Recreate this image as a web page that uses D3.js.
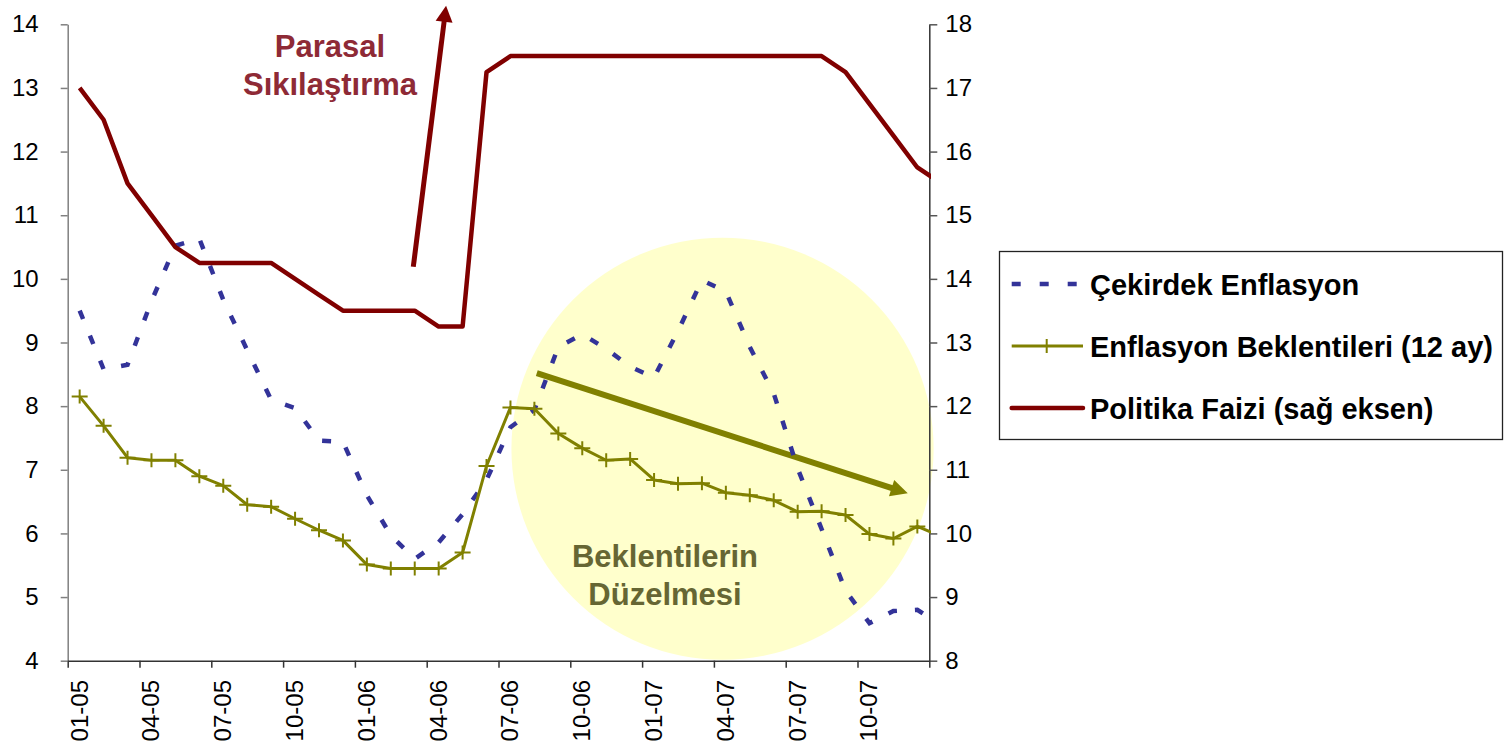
<!DOCTYPE html>
<html>
<head>
<meta charset="utf-8">
<script src="https://cdn.jsdelivr.net/npm/d3@7"></script>
<style>
  html, body { margin: 0; padding: 0; background: #fff; }
  svg { display: block; font-family: "Liberation Sans", Arial, sans-serif; }
</style>
</head>
<body>
<svg id="chart" width="1506" height="746"></svg>
<script>
// Monthly categories, Jan 2005 – Jan 2008 (the last month falls just past the axis)
const months = [
  "01-05","02-05","03-05","04-05","05-05","06-05","07-05","08-05","09-05","10-05","11-05","12-05",
  "01-06","02-06","03-06","04-06","05-06","06-06","07-06","08-06","09-06","10-06","11-06","12-06",
  "01-07","02-07","03-07","04-07","05-07","06-07","07-07","08-07","09-07","10-07","11-07","12-07",
  "01-08"
];
const axisMonths = 36; // categories shown on the axis

// Çekirdek enflasyon (%), left axis
const coreInflation = [
  9.5, 8.58, 8.65, 9.65, 10.52, 10.63, 9.67, 8.88, 8.1, 7.97, 7.46, 7.44,
  6.6, 5.97, 5.6, 5.86, 6.3, 6.84, 7.67, 7.94, 8.93, 9.13, 8.9, 8.62,
  8.45, 9.18, 9.98, 9.8, 8.93, 8.2, 7.02, 6.07, 5.1, 4.59, 4.78, 4.8,
  4.55
];
// 12-month-ahead inflation expectations (%), left axis
const expectations = [
  8.15, 7.69, 7.19, 7.15, 7.15, 6.9, 6.75, 6.45, 6.42, 6.23, 6.05, 5.89,
  5.51, 5.45, 5.45, 5.45, 5.7, 7.06, 7.98, 7.96, 7.57, 7.34, 7.15, 7.17,
  6.84, 6.78, 6.79, 6.64, 6.6, 6.52, 6.34, 6.35, 6.29, 5.99, 5.92, 6.11,
  5.95
];
// Policy rate (%), right axis
const policyRate = [
  17, 16.5, 15.5, 15, 14.5, 14.25, 14.25, 14.25, 14.25, 14, 13.75, 13.5,
  13.5, 13.5, 13.5, 13.25, 13.25, 17.25, 17.5, 17.5, 17.5, 17.5, 17.5, 17.5,
  17.5, 17.5, 17.5, 17.5, 17.5, 17.5, 17.5, 17.5, 17.25, 16.75, 16.25, 15.75,
  15.5
];

const leftTicks = [4, 5, 6, 7, 8, 9, 10, 11, 12, 13, 14];
const rightTicks = [8, 9, 10, 11, 12, 13, 14, 15, 16, 17, 18];

const seriesNames = ["Çekirdek Enflasyon", "Enflasyon Beklentileri (12 ay)", "Politika Faizi (sağ eksen)"];
const colors = { core: "#333399", exp: "#808000", rate: "#800000" };

// Annotation shapes in data units (month index, value)
const tighteningArrow = { from: [14.44, 14.19], to: [15.81, 18.29] };   // right axis
const expectationArrow = { from: [19.6, 8.52], to: [35.1, 6.63] };      // left axis
const highlight = { center: [27.36, 7.33], radiusMonths: 8.82 };        // left axis

const plot = { left: 67.7, right: 929.3, top: 24.3, bottom: 660.7 };

const svg = d3.select("#chart");

const x = d3.scaleLinear().domain([0, axisMonths]).range([plot.left, plot.right]);
const yL = d3.scaleLinear().domain([4, 14]).range([plot.bottom, plot.top]);
const yR = d3.scaleLinear().domain([8, 18]).range([plot.bottom, plot.top]);
const cx = i => x(i + 0.5);

svg.append("defs").append("clipPath").attr("id", "plotClip")
  .append("rect")
  .attr("x", plot.left).attr("y", 0)
  .attr("width", plot.right - plot.left + 1.7).attr("height", plot.bottom + 10);

// Highlight circle
svg.append("circle")
  .attr("cx", x(highlight.center[0]))
  .attr("cy", yL(highlight.center[1]))
  .attr("r", x(highlight.radiusMonths) - x(0))
  .attr("fill", "#ffffcc");

// Arrows
function arrow(g, p0, p1, color, width, headLen, headHalf) {
  const dx = p1[0] - p0[0], dy = p1[1] - p0[1];
  const len = Math.hypot(dx, dy);
  const ux = dx / len, uy = dy / len;
  const bx = p1[0] - ux * headLen, by = p1[1] - uy * headLen;
  g.append("line")
    .attr("x1", p0[0]).attr("y1", p0[1])
    .attr("x2", bx + ux * 2).attr("y2", by + uy * 2)
    .attr("stroke", color).attr("stroke-width", width);
  g.append("path")
    .attr("d", `M${p1[0]},${p1[1]} L${bx - uy * headHalf},${by + ux * headHalf} L${bx + uy * headHalf},${by - ux * headHalf} Z`)
    .attr("fill", color);
}
const ann = svg.append("g");
arrow(ann,
  [x(tighteningArrow.from[0]), yR(tighteningArrow.from[1])],
  [x(tighteningArrow.to[0]), yR(tighteningArrow.to[1])],
  colors.rate, 5, 16, 8.5);
arrow(ann,
  [x(expectationArrow.from[0]), yL(expectationArrow.from[1])],
  [x(expectationArrow.to[0]), yL(expectationArrow.to[1])],
  colors.exp, 6, 17, 8.5);

// Annotation texts
const t1 = svg.append("text")
  .attr("text-anchor", "middle")
  .attr("font-size", 31).attr("font-weight", "bold")
  .attr("fill", "#8e2a36");
t1.append("tspan").attr("x", 330).attr("y", 56.7).text("Parasal");
t1.append("tspan").attr("x", 330).attr("y", 94.5).text("Sıkılaştırma");

const t2 = svg.append("text")
  .attr("text-anchor", "middle")
  .attr("font-size", 31).attr("font-weight", "bold")
  .attr("fill", "#666633");
t2.append("tspan").attr("x", 665).attr("y", 567.3).text("Beklentilerin");
t2.append("tspan").attr("x", 665).attr("y", 605).text("Düzelmesi");

// Axes
const leftAxis = svg.append("g")
  .attr("transform", `translate(${plot.left},0)`)
  .call(d3.axisLeft(yL).tickValues(leftTicks).tickFormat(d3.format("d"))
    .tickSize(7).tickSizeOuter(0).tickPadding(22));
leftAxis.select(".domain").attr("stroke", "#808080").attr("stroke-width", 1.5);
leftAxis.selectAll(".tick line").attr("stroke", "#808080").attr("stroke-width", 1.5);
leftAxis.selectAll(".tick text").attr("font-size", 24).attr("fill", "#000")
  .style("font-family", "'Liberation Sans', Arial, sans-serif");

const rightAxis = svg.append("g")
  .attr("transform", `translate(${plot.right},0)`)
  .call(d3.axisRight(yR).tickValues(rightTicks).tickFormat(d3.format("d"))
    .tickSize(8).tickSizeOuter(0).tickPadding(8));
rightAxis.select(".domain").attr("stroke", "#333").attr("stroke-width", 1.5);
rightAxis.selectAll(".tick line").attr("stroke", "#555").attr("stroke-width", 1.5);
rightAxis.selectAll(".tick text").attr("font-size", 24).attr("fill", "#000")
  .style("font-family", "'Liberation Sans', Arial, sans-serif");

const bottomAxis = svg.append("g")
  .attr("transform", `translate(0,${plot.bottom})`)
  .call(d3.axisBottom(x).tickValues(d3.range(0, axisMonths + 1, 3)).tickFormat("")
    .tickSize(7).tickSizeOuter(0));
bottomAxis.select(".domain").attr("stroke", "#333").attr("stroke-width", 1.5);
bottomAxis.selectAll(".tick line").attr("stroke", "#333").attr("stroke-width", 1.5);

const labelIdx = d3.range(0, axisMonths, 3);
svg.append("g").selectAll("text")
  .data(labelIdx)
  .join("text")
  .attr("transform", i => `translate(${cx(i) + 8},680) rotate(-90)`)
  .attr("text-anchor", "end")
  .attr("font-size", 24)
  .attr("fill", "#000")
  .text(i => months[i]);

// Series lines
const lines = svg.append("g").attr("clip-path", "url(#plotClip)");
const lineL = d3.line().x((d, i) => cx(i)).y(d => yL(d));
const lineR = d3.line().x((d, i) => cx(i)).y(d => yR(d));

lines.append("path")
  .datum(coreInflation)
  .attr("d", lineL)
  .attr("fill", "none")
  .attr("stroke", colors.core)
  .attr("stroke-width", 4.5)
  .attr("stroke-dasharray", "9,18");

lines.append("path")
  .datum(expectations)
  .attr("d", lineL)
  .attr("fill", "none")
  .attr("stroke", colors.exp)
  .attr("stroke-width", 3)
  .attr("stroke-linejoin", "round");

lines.append("g").selectAll("path")
  .data(expectations)
  .join("path")
  .attr("d", (d, i) => {
    const px = cx(i), py = yL(d);
    return `M${px - 8},${py}H${px + 8}M${px},${py - 7}V${py + 7}`;
  })
  .attr("stroke", colors.exp)
  .attr("stroke-width", 2)
  .attr("fill", "none");

lines.append("path")
  .datum(policyRate)
  .attr("d", lineR)
  .attr("fill", "none")
  .attr("stroke", colors.rate)
  .attr("stroke-width", 4.5)
  .attr("stroke-linejoin", "round");

// Legend
const legend = svg.append("g");
legend.append("rect")
  .attr("x", 999.5).attr("y", 251.5)
  .attr("width", 503).attr("height", 188)
  .attr("fill", "#fff").attr("stroke", "#222").attr("stroke-width", 1.3);

const rowY = [284, 346, 408];
const sx0 = 1011.7, sx1 = 1080;
legend.append("line")
  .attr("x1", sx0).attr("x2", sx1).attr("y1", rowY[0]).attr("y2", rowY[0])
  .attr("stroke", colors.core).attr("stroke-width", 4.5).attr("stroke-dasharray", "9,19");
legend.append("line")
  .attr("x1", sx0).attr("x2", sx1 + 3).attr("y1", rowY[1]).attr("y2", rowY[1])
  .attr("stroke", colors.exp).attr("stroke-width", 3);
legend.append("line")
  .attr("x1", 1046.7).attr("x2", 1046.7).attr("y1", rowY[1] - 7).attr("y2", rowY[1] + 7)
  .attr("stroke", colors.exp).attr("stroke-width", 2);
legend.append("line")
  .attr("x1", sx0).attr("x2", sx1 + 3).attr("y1", rowY[2]).attr("y2", rowY[2])
  .attr("stroke", colors.rate).attr("stroke-width", 4.5).attr("stroke-linecap", "round");

legend.selectAll("text.lbl")
  .data(seriesNames)
  .join("text")
  .attr("class", "lbl")
  .attr("x", 1090)
  .attr("y", (d, i) => rowY[i] + 10.5)
  .attr("font-size", 29)
  .attr("font-weight", "bold")
  .attr("fill", "#000")
  .text(d => d);
</script>
</body>
</html>
